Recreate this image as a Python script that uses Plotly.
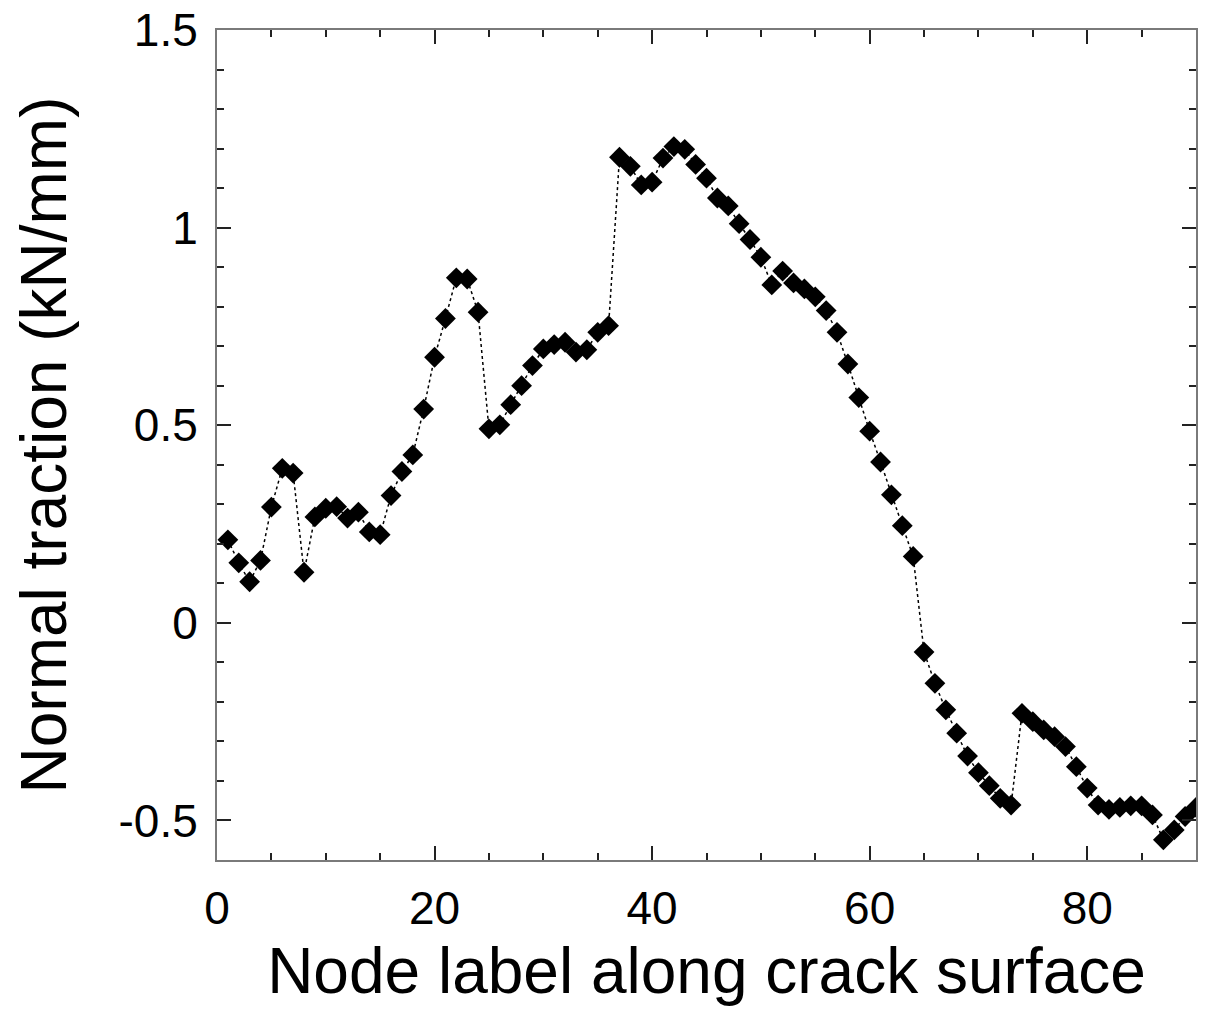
import plotly.graph_objects as go

# node labels and normal traction (kN/mm)
node = list(range(1, 91))
traction = [
    0.21, 0.152, 0.104, 0.158, 0.293, 0.391, 0.379, 0.128, 0.268, 0.290,
    0.294, 0.265, 0.280, 0.230, 0.223, 0.322, 0.383, 0.425, 0.541, 0.672,
    0.770, 0.873, 0.870, 0.786, 0.491, 0.501, 0.552, 0.600, 0.651, 0.693,
    0.704, 0.710, 0.685, 0.691, 0.735, 0.752, 1.178, 1.155, 1.108, 1.115,
    1.176, 1.205, 1.198, 1.160, 1.125, 1.075, 1.055, 1.010, 0.970, 0.925,
    0.855, 0.890, 0.860, 0.845, 0.825, 0.790, 0.735, 0.655, 0.570, 0.485,
    0.407, 0.324, 0.246, 0.168, -0.074, -0.153, -0.220, -0.279, -0.337, -0.379,
    -0.412, -0.444, -0.461, -0.229, -0.250, -0.271, -0.288, -0.313, -0.364, -0.418,
    -0.461, -0.472, -0.467, -0.463, -0.463, -0.486, -0.549, -0.524, -0.490, -0.467,
]

y_ticks = [-0.5, 0, 0.5, 1, 1.5]
y_ticktext = ["-0.5", "0", "0.5", "1", "1.5"]

FONT = "Liberation Sans, Arial, Helvetica, sans-serif"
AXIS = dict(
    showline=True, linecolor="#7a7a7a", linewidth=2, mirror="ticks",
    ticks="inside", ticklen=14, tickwidth=2, tickcolor="#222",
    showgrid=False, zeroline=False, automargin=False,
    ticklabeloverflow="allow",
    tickfont=dict(family=FONT, size=46, color="black"),
)

fig = go.Figure(go.Scatter(
    x=node, y=traction, mode="lines+markers",
    line=dict(color="black", width=1.5, dash="3px,3px"),
    marker=dict(symbol="diamond", size=16, color="black"),
    showlegend=False,
))

fig.update_xaxes(
    range=[0, 90], dtick=20, tick0=0,
    minor=dict(dtick=5, ticks="inside", ticklen=7, tickwidth=2, tickcolor="#222"),
    title=dict(text="Node label along crack surface",
               font=dict(family=FONT, size=64, color="black"), standoff=15),
    ticklabelstandoff=7,
    **AXIS,
)
fig.update_yaxes(
    range=[-0.6, 1.5], tickvals=y_ticks, ticktext=y_ticktext,
    minor=dict(dtick=0.1, tick0=0, ticks="inside", ticklen=7, tickwidth=2, tickcolor="#222"),
    title=dict(text="Normal traction (kN/mm)",
               font=dict(family=FONT, size=64, color="black"), standoff=54),
    ticklabelstandoff=8,
    **AXIS,
)

# the page body adds about 8 px, so the figure is a little smaller than the window
fig.update_layout(
    width=1198, height=1008,
    margin=dict(l=209, r=10, t=22, b=156),
    paper_bgcolor="white", plot_bgcolor="white",
)

fig.write_html("out.html")
